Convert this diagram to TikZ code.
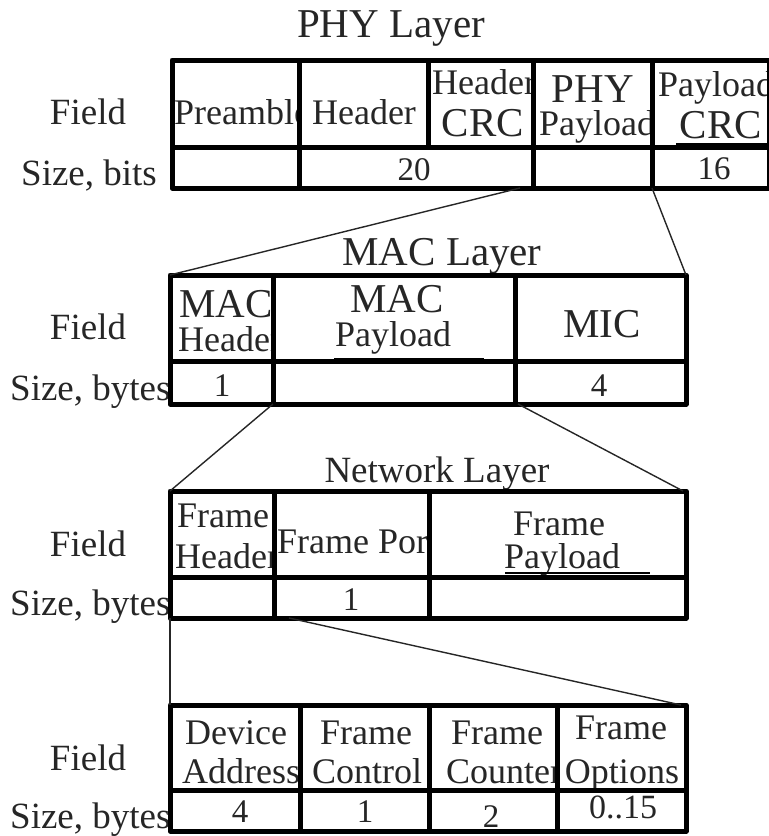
\documentclass[tikz,border=0pt]{standalone}
\usepackage{fontspec}
\setmainfont{Liberation Serif}
\usetikzlibrary{fit,calc}
\begin{document}
\begin{tikzpicture}[x=1pt,y=-1pt,
  cellbox/.style={draw=black, line width=5pt, line join=round, inner sep=0pt, outer sep=0pt},
  link/.style={draw=black!85, line width=1.4pt},
  smudge/.style={draw=black, line width=2.5pt},
  lbl/.style={inner sep=0pt, text=black!85, font=\fontsize{37}{40}\selectfont},
  wtxt/.style={inner sep=0pt, text=black!85, font=\fontsize{36}{38}\selectfont},
  ctxt/.style={inner sep=0pt, text=black!85, font=\fontsize{41}{44}\selectfont},
  ntxt/.style={inner sep=0pt, text=black!85, font=\fontsize{33}{35}\selectfont},
  qtxt/.style={inner sep=0pt, text=black!85, font=\fontsize{34}{36}\selectfont},
  ttl/.style={inner sep=0pt, text=black!85, font=\fontsize{41}{44}\selectfont},
  ttlb/.style={inner sep=0pt, text=black!85, font=\fontsize{37}{40}\selectfont}]
\useasboundingbox (0,0) rectangle (769,836);

% ---------- titles ----------
\node[ttl, anchor=base] (tPHY) at (391,37) {PHY Layer};
\node[ttl, anchor=base] (tMAC) at (442,265) {MAC Layer};
\node[ttlb, anchor=base] (tNET) at (437,482) {Network Layer};

% ---------- row labels ----------
\node[lbl, anchor=base] (lF1) at (88,124) {Field};
\node[lbl, anchor=base west] (lS1) at (21,185) {Size, bits};
\node[lbl, anchor=base] (lF2) at (88,339) {Field};
\node[lbl, anchor=base west] (lS2) at (10,400) {Size, bytes};
\node[lbl, anchor=base] (lF3) at (88,556) {Field};
\node[lbl, anchor=base west] (lS3) at (10,615) {Size, bytes};
\node[lbl, anchor=base] (lF4) at (88,770) {Field};
\node[lbl, anchor=base west] (lS4) at (10,828) {Size, bytes};

% ---------- PHY texts ----------
\begin{scope}\clip (172,60) rectangle (299,147);
\node[wtxt, anchor=base west] (xPre) at (174,124) {Preamble};
\end{scope}
\node[wtxt, anchor=base] (xHdr) at (364,124) {Header};
\begin{scope}\clip (428,60) rectangle (533,147);
\node[wtxt, anchor=base west] (xHc1) at (432,94) {Header};
\node[ctxt, anchor=base] (xHc2) at (483,136) {CRC};
\end{scope}
\begin{scope}\clip (533,60) rectangle (652,147);
\node[ctxt, anchor=base] (xPp1) at (593,102) {PHY};
\node[wtxt, anchor=base west] (xPp2) at (539,135) {Payload};
\end{scope}
\begin{scope}\clip (652,60) rectangle (769,147);
\node[wtxt, anchor=base west] (xPc1) at (658,96) {Payload};
\node[ctxt, anchor=base] (xPc2) at (721,138) {CRC};
\end{scope}
\node[ntxt, anchor=base] (x20) at (414,180) {20};
\node[ntxt, anchor=base] (x16) at (714,179) {16};

% ---------- MAC texts ----------
\begin{scope}\clip (170,275) rectangle (273,361);
\node[ctxt, anchor=base west] (xMh1) at (179,317) {MAC};
\node[wtxt, anchor=base west] (xMh2) at (178,351) {Header};
\end{scope}
\node[ctxt, anchor=base] (xMp1) at (397,312) {MAC};
\node[wtxt, anchor=base] (xMp2) at (393,346) {Payload};
\node[ctxt, anchor=base] (xMIC) at (602,337) {MIC};
\node[ntxt, anchor=base] (xM1) at (222,396) {1};
\node[ntxt, anchor=base] (xM4) at (599,396) {4};

% ---------- Network texts ----------
\begin{scope}\clip (170,491) rectangle (274,577);
\node[wtxt, anchor=base west] (xNh1) at (177,527) {Frame};
\node[wtxt, anchor=base west] (xNh2) at (175,568) {Header};
\end{scope}
\begin{scope}\clip (274,491) rectangle (429,577);
\node[wtxt, anchor=base west] (xNp) at (277,553) {Frame Port};
\end{scope}
\node[wtxt, anchor=base] (xNf1) at (559,535) {Frame};
\node[wtxt, anchor=base] (xNf2) at (562,568) {Payload};
\node[ntxt, anchor=base] (xN1) at (351,610) {1};

% ---------- bottom texts ----------
\node[wtxt, anchor=base] (xB1a) at (236,744) {Device};
\begin{scope}\clip (170,705) rectangle (300,790);
\node[wtxt, anchor=base west] (xB1b) at (182,783) {Address};
\end{scope}
\node[wtxt, anchor=base] (xB2a) at (366,744) {Frame};
\node[wtxt, anchor=base] (xB2b) at (367,783) {Control};
\node[wtxt, anchor=base] (xB3a) at (497,744) {Frame};
\begin{scope}\clip (429,705) rectangle (557,790);
\node[wtxt, anchor=base west] (xB3b) at (446,783) {Counter};
\end{scope}
\node[wtxt, anchor=base] (xB4a) at (621,739) {Frame};
\node[wtxt, anchor=base] (xB4b) at (622,783) {Options};
\node[ntxt, anchor=base] (xB4n) at (240,822) {4};
\node[ntxt, anchor=base] (xB1n) at (365,822) {1};
\node[ntxt, anchor=base] (xB2n) at (491,827) {2};
\node[qtxt, anchor=base] (xB15n) at (623,818) {0..15};

% ---------- PHY cells ----------
\node[cellbox, fit={(172,60) (299,147)}] (pF1) {};
\node[cellbox, fit={(299,60) (428,147)}] (pF2) {};
\node[cellbox, fit={(428,60) (533,147)}] (pF3) {};
\node[cellbox, fit={(533,60) (652,147)}] (pF4) {};
\node[cellbox, fit={(652,60) (769,147)}] (pF5) {};
\node[cellbox, fit={(172,147) (299,188)}] (pS1) {};
\node[cellbox, fit={(299,147) (533,188)}] (pS2) {};
\node[cellbox, fit={(533,147) (652,188)}] (pS3) {};
\node[cellbox, fit={(652,147) (769,188)}] (pS4) {};

% ---------- MAC cells ----------
\node[cellbox, fit={(170,275) (273,361)}] (mF1) {};
\node[cellbox, fit={(273,275) (515,361)}] (mF2) {};
\node[cellbox, fit={(515,275) (686,361)}] (mF3) {};
\node[cellbox, fit={(170,361) (273,404)}] (mS1) {};
\node[cellbox, fit={(273,361) (515,404)}] (mS2) {};
\node[cellbox, fit={(515,361) (686,404)}] (mS3) {};

% ---------- Network cells ----------
\node[cellbox, fit={(170,491) (274,577)}] (nF1) {};
\node[cellbox, fit={(274,491) (429,577)}] (nF2) {};
\node[cellbox, fit={(429,491) (686,577)}] (nF3) {};
\node[cellbox, fit={(170,577) (274,618)}] (nS1) {};
\node[cellbox, fit={(274,577) (429,618)}] (nS2) {};
\node[cellbox, fit={(429,577) (686,618)}] (nS3) {};

% ---------- bottom cells ----------
\node[cellbox, fit={(170,705) (300,790)}] (bF1) {};
\node[cellbox, fit={(300,705) (429,790)}] (bF2) {};
\node[cellbox, fit={(429,705) (557,790)}] (bF3) {};
\node[cellbox, fit={(557,705) (686,790)}] (bF4) {};
\node[cellbox, fit={(170,790) (300,831)}] (bS1) {};
\node[cellbox, fit={(300,790) (429,831)}] (bS2) {};
\node[cellbox, fit={(429,790) (557,831)}] (bS3) {};
\node[cellbox, fit={(557,790) (686,831)}] (bS4) {};

% ---------- underline smudges ----------
\draw[smudge] (676,144.5) -- (769,144.5);
\draw[smudge] (334,359) -- (484,359);
\draw[smudge] (505,573) -- (650,573);

% ---------- connectors ----------
\draw[link] ($(pS3.south west)+(-13,0)$) -- (mF1.north west);
\draw[link] (pS4.south west) -- (mF3.north east);
\draw[link] (mS1.south east) -- (nF1.north west);
\draw[link] ($(mS3.south west)+(3,0)$) -- ($(nF3.north east)+(-3,0)$);
\draw[link] (nS1.south west) -- (bF1.north west);
\draw[link] ($(nS2.south west)+(15,0)$) -- ($(bF4.north east)+(-5,0)$);
\end{tikzpicture}
\end{document}
